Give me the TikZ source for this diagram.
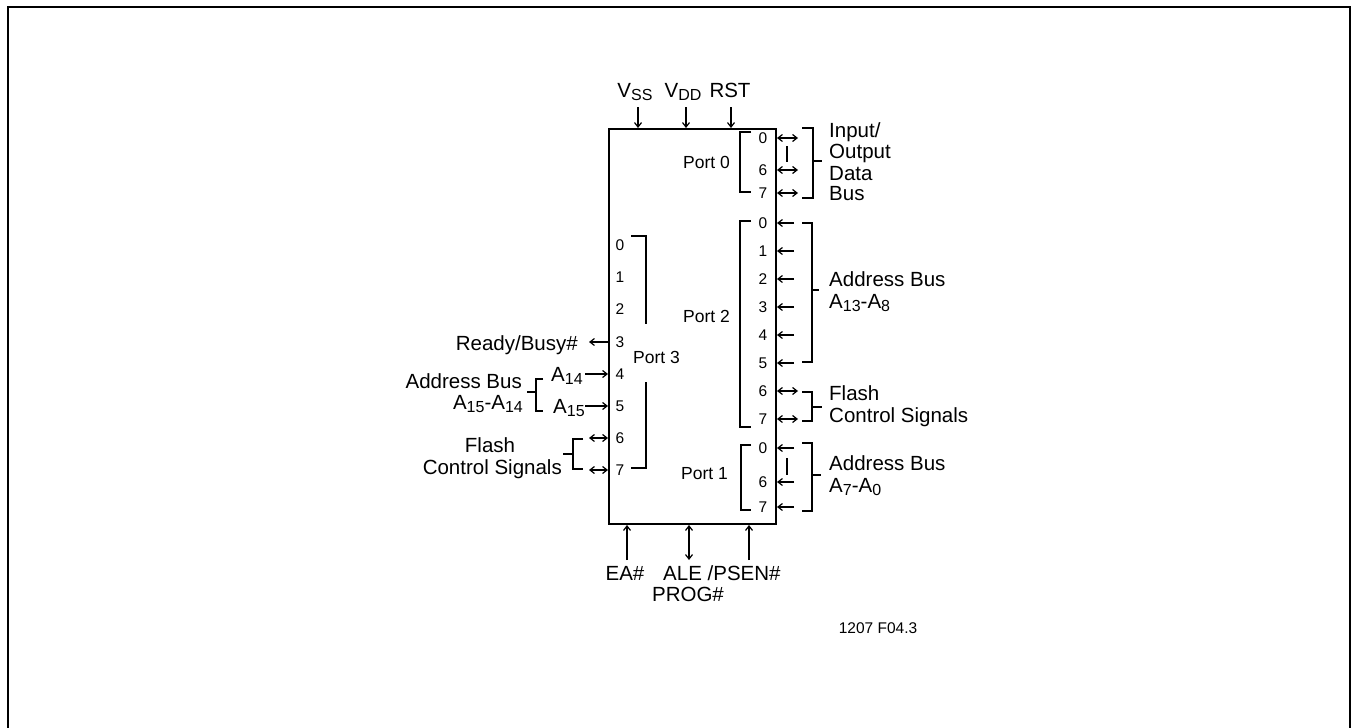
\documentclass[tikz,border=0pt]{standalone}
\usepackage{fontspec}
\setmainfont{Liberation Sans}
\usetikzlibrary{arrows.meta}
\newcommand{\lowsub}[1]{\raisebox{-3.5pt}{\fontsize{16}{16}\selectfont #1}}
\tikzset{
  lbl/.style={font=\fontsize{20.5}{22}\selectfont, inner sep=0pt, text height=14.7pt, text depth=0pt},
  pin/.style={font=\fontsize{15.5}{16}\selectfont, inner sep=0pt, text height=11.1pt, text depth=0pt},
  portlbl/.style={font=\fontsize{17.5}{18}\selectfont, inner sep=0pt, text height=12.6pt, text depth=0pt},
  chipbox/.style={draw, line width=2pt, inner sep=0pt},
  brk/.style={line width=1.6pt},
  sig/.style={line width=1.2pt, -{Straight Barb[length=4.5pt,width=7pt]}},
  bisig/.style={line width=1.2pt, {Straight Barb[length=4.5pt,width=7pt]}-{Straight Barb[length=4.5pt,width=7pt]}}
}
\begin{document}
\begin{tikzpicture}[x=1pt,y=-1pt]
\useasboundingbox (0,0) rectangle (1353,728);
\draw[line width=2pt] (8,728) -- (8,7) -- (1350,7) -- (1350,728);

\node[chipbox, minimum width=167pt, minimum height=395pt] (chip) at (692.5,326.5) {};

% supply and reset
\node[lbl] (vss) at (635,90) {V\lowsub{SS}};
\node[lbl] (vdd) at (683,90) {V\lowsub{DD}};
\node[lbl] (rst) at (730,90) {RST};
\foreach \x in {638,686,731}
  \draw[sig] (\x,107) -- (chip.north -| \x,0);

% port 0
\node[portlbl, anchor=east] (port0) at (730,162) {Port 0};
\foreach \n/\y in {0/138,6/170,7/193} {
  \node[pin] (pA\n) at (763,\y) {\n};
  \draw[bisig] (chip.east |- pA\n) -- (798,0 |- pA\n);
}
\draw[brk] (751,132) -- (740,132) -- (740,192) -- (751,192);
\draw[line width=1.2pt] (787,146) -- (787,162);
\draw[brk] (802,128) -- (813,128) -- (813,198) -- (802,198) (813,161) -- (822,161);
\node[lbl, anchor=west] (io1) at (829,130) {Input/};
\node[lbl, anchor=west] (io2) at (829,151) {Output};
\node[lbl, anchor=west] (io3) at (829,173) {Data};
\node[lbl, anchor=west] (io4) at (829,193) {Bus};

% port 2
\node[portlbl, anchor=east] (port2) at (730,316) {Port 2};
\foreach \n/\y in {0/223,1/251,2/279,3/307,4/335,5/363,6/391,7/419}
  \node[pin] (pB\n) at (763,\y) {\n};
\foreach \n in {0,...,5}
  \draw[sig] (794,0 |- pB\n) -- (chip.east |- pB\n);
\foreach \n in {6,7}
  \draw[bisig] (chip.east |- pB\n) -- (798,0 |- pB\n);
\draw[brk] (751,221) -- (740,221) -- (740,427) -- (751,427);
\draw[brk] (802,223) -- (812,223) -- (812,362) -- (802,362) (812,290) -- (819,290);
\node[lbl, anchor=west] (ab1) at (829,279) {Address Bus};
\node[lbl, anchor=west] (ab2) at (829,301) {A\lowsub{13}-A\lowsub{8}};
\draw[brk] (802,392) -- (812,392) -- (812,421) -- (802,421) (812,407) -- (822,407);
\node[lbl, anchor=west] (fc1) at (829,393) {Flash};
\node[lbl, anchor=west] (fc2) at (829,415) {Control Signals};

% port 1
\node[portlbl, anchor=east] (port1) at (728,473) {Port 1};
\foreach \n/\y in {0/448,6/482,7/507} {
  \node[pin] (pC\n) at (763,\y) {\n};
  \draw[sig] (794,0 |- pC\n) -- (chip.east |- pC\n);
}
\draw[brk] (751,445) -- (741,445) -- (741,510) -- (751,510);
\draw[line width=1.2pt] (787,458) -- (787,475);
\draw[brk] (802,443) -- (812,443) -- (812,511) -- (802,511) (812,475) -- (821,475);
\node[lbl, anchor=west] (lo1) at (829,463) {Address Bus};
\node[lbl, anchor=west] (lo2) at (829,485) {A\lowsub{7}-A\lowsub{0}};

% port 3
\node[portlbl, anchor=west] (port3) at (633,357) {Port 3};
\foreach \n/\y in {0/245,1/277,2/309,3/342,4/374,5/406,6/438,7/470}
  \node[pin] (pD\n) at (620,\y) {\n};
\draw[brk] (631,236) -- (646,236) -- (646,324);
\draw[brk] (646,382) -- (646,468) -- (631,468);
\node[lbl, anchor=east] (rdy) at (578,343) {Ready/Busy\#};
\draw[sig] (chip.west |- pD3) -- (589,0 |- pD3);
\node[lbl, anchor=west] (a14) at (551,374) {A\lowsub{14}};
\node[lbl, anchor=west] (a15) at (553,406) {A\lowsub{15}};
\draw[sig] (585,0 |- pD4) -- (chip.west |- pD4);
\draw[sig] (585,0 |- pD5) -- (chip.west |- pD5);
\draw[brk] (543,379) -- (536,379) -- (536,411) -- (543,411) (536,392) -- (527,392);
\node[lbl, anchor=east] (hb1) at (522,381) {Address Bus};
\node[lbl, anchor=east] (hb2) at (523,402) {A\lowsub{15}-A\lowsub{14}};
\draw[bisig] (589,0 |- pD6) -- (chip.west |- pD6);
\draw[bisig] (589,0 |- pD7) -- (chip.west |- pD7);
\draw[brk] (583,439) -- (573,439) -- (573,469) -- (583,469) (573,454) -- (563,454);
\node[lbl] (fl1) at (490,445) {Flash};
\node[lbl, anchor=east] (fl2) at (562,467) {Control Signals};

% bottom pins
\draw[sig] (627,560) -- (chip.south -| 627,0);
\draw[bisig] (chip.south -| 689,0) -- (689,560);
\draw[sig] (749,560) -- (chip.south -| 749,0);
\node[lbl] (ea) at (625,573) {EA\#};
\node[lbl, anchor=west] (ale) at (663,573) {ALE /PSEN\#};
\node[lbl] (prog) at (688,594) {PROG\#};

\node[font=\fontsize{15.5}{16}\selectfont, inner sep=0pt] (figno) at (878,628) {1207 F04.3};
\end{tikzpicture}
\end{document}
